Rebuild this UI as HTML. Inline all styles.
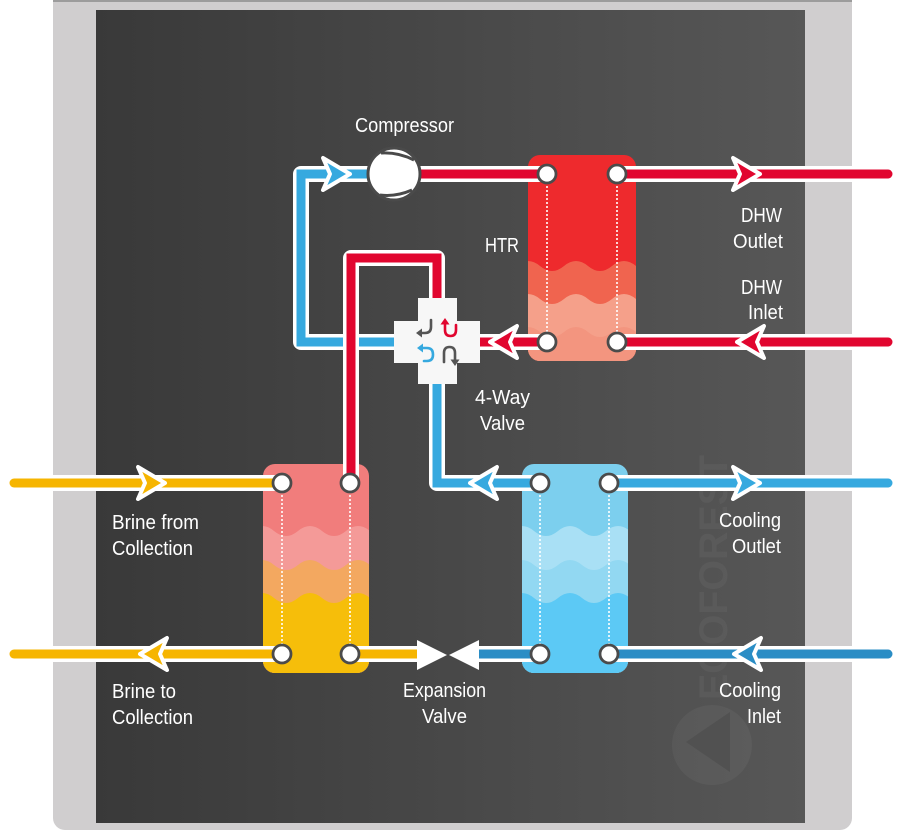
<!DOCTYPE html>
<html>
<head>
<meta charset="utf-8">
<style>
  html,body{margin:0;padding:0;background:#ffffff;}
  svg{display:block;}
  text{font-family:"Liberation Sans",Arial,sans-serif;font-size:20px;fill:#ffffff;}
</style>
</head>
<body>
<svg width="923" height="836" viewBox="0 0 923 836" xmlns="http://www.w3.org/2000/svg">
  <defs>
    <linearGradient id="bg" x1="0" y1="0" x2="1" y2="0">
      <stop offset="0" stop-color="#393939"/>
      <stop offset="1" stop-color="#575757"/>
    </linearGradient>
    <clipPath id="cL"><rect x="263" y="464" width="106" height="209" rx="12"/></clipPath>
    <clipPath id="cC"><rect x="522" y="464" width="106" height="209" rx="12"/></clipPath>
    <clipPath id="cH"><rect x="528" y="155" width="108" height="206" rx="12"/></clipPath>
  </defs>

  <!-- frame -->
  <rect x="53" y="-20" width="799" height="850" rx="12" fill="#d0cecf"/>
  <rect x="53" y="0" width="799" height="2" fill="#9c9c9c"/>
  <rect x="96" y="10" width="709" height="813" fill="url(#bg)"/>

  <!-- watermark -->
  <text transform="translate(727,700) rotate(-90)" x="0" y="0" textLength="245" lengthAdjust="spacingAndGlyphs" style="font-size:40px;font-weight:bold;fill:#ffffff;fill-opacity:0.045">ECOFOREST</text>
  <circle cx="712" cy="745" r="40" fill="#ffffff" fill-opacity="0.045"/>
  <polygon points="686,742 730,712 730,772" fill="#515151"/>

  <!-- Left HX (brine) -->
  <g clip-path="url(#cL)">
    <rect x="263" y="464" width="106" height="209" fill="#f17d7c"/>
    <path d="M250 531 q12 -10 24 0 t24 0 t24 0 t24 0 t24 0 t24 0 V680 H250 Z" fill="#f49a98"/>
    <path d="M250 565 q12 -10 24 0 t24 0 t24 0 t24 0 t24 0 t24 0 V680 H250 Z" fill="#f3a860"/>
    <path d="M250 598 q12 -10 24 0 t24 0 t24 0 t24 0 t24 0 t24 0 V680 H250 Z" fill="#f6be0a"/>
  </g>
  <!-- Cooling HX -->
  <g clip-path="url(#cC)">
    <rect x="522" y="464" width="106" height="209" fill="#7ccfee"/>
    <path d="M510 531 q12 -10 24 0 t24 0 t24 0 t24 0 t24 0 t24 0 V680 H510 Z" fill="#a9e0f5"/>
    <path d="M510 565 q12 -10 24 0 t24 0 t24 0 t24 0 t24 0 t24 0 V680 H510 Z" fill="#92d8f2"/>
    <path d="M510 598 q12 -10 24 0 t24 0 t24 0 t24 0 t24 0 t24 0 V680 H510 Z" fill="#5cc9f5"/>
  </g>
  <!-- HTR -->
  <g clip-path="url(#cH)">
    <rect x="528" y="155" width="108" height="206" fill="#ee2a2d"/>
    <path d="M516 266 q12 -10 24 0 t24 0 t24 0 t24 0 t24 0 t24 0 V370 H516 Z" fill="#f0644f"/>
    <path d="M516 299 q12 -10 24 0 t24 0 t24 0 t24 0 t24 0 t24 0 V370 H516 Z" fill="#f5a08a"/>
    <path d="M516 332 q12 -10 24 0 t24 0 t24 0 t24 0 t24 0 t24 0 V370 H516 Z" fill="#f3957f"/>
  </g>

  <!-- dotted lines -->
  <g stroke="#ffffff" stroke-width="1.6" stroke-dasharray="2 2" fill="none">
    <path d="M282 483 V654 M350 483 V654"/>
    <path d="M540 483 V654 M609 483 V654"/>
    <path d="M547 174 V342 M617 174 V342"/>
  </g>

  <!-- pipes -->
  <g fill="none" stroke-linecap="round">
    <g stroke="#ffffff" stroke-width="16" stroke-linejoin="round">
      <path d="M394 342 H301 V174 H370"/>
      <path d="M437 384 V483 H540"/>
      <path d="M609 483 H888"/>
      <path d="M479 654 H540"/>
      <path d="M609 654 H888"/>
    </g>
    <g stroke="#36a9df" stroke-width="9" stroke-linejoin="miter">
      <path d="M394 342 H301 V174 H370"/>
      <path d="M437 384 V483 H540"/>
      <path d="M609 483 H888"/>
    </g>
    <g stroke="#2a8dc5" stroke-width="9">
      <path d="M479 654 H540"/>
      <path d="M609 654 H888"/>
    </g>
    <g stroke="#ffffff" stroke-width="16" stroke-linejoin="round">
      <path d="M14 483 H282"/>
      <path d="M14 654 H282"/>
      <path d="M350 654 H417"/>
    </g>
    <g stroke="#f6b500" stroke-width="9">
      <path d="M14 483 H282"/>
      <path d="M14 654 H282"/>
      <path d="M350 654 H417"/>
    </g>
    <g stroke="#ffffff" stroke-width="16" stroke-linejoin="round">
      <path d="M420 174 H547"/>
      <path d="M617 174 H888"/>
      <path d="M617 342 H888"/>
      <path d="M547 342 H480"/>
      <path d="M437 298 V258 H351 V483"/>
    </g>
    <g stroke="#e1062f" stroke-width="9" stroke-linejoin="miter">
      <path d="M420 174 H547"/>
      <path d="M617 174 H888"/>
      <path d="M617 342 H888"/>
      <path d="M547 342 H480"/>
      <path d="M437 298 V258 H351 V483"/>
    </g>
  </g>

  <!-- 4-way valve -->
  <polygon points="418,298 457,298 457,321 480,321 480,363 457,363 457,384 418,384 418,363 394,363 394,321 418,321" fill="#f7f7f7"/>
  <g fill="none" stroke-width="2.6" stroke-linecap="round">
    <path d="M431 320 V327 Q431 333 425 333 H421" stroke="#555555"/>
    <path d="M445 324 V330 Q445 336 450.5 336 Q456 336 456 330 V325" stroke="#e1062f"/>
    <path d="M421 348 H427 Q433 348 433 354.5 Q433 361 427 361 H424" stroke="#36a9df"/>
    <path d="M444 362 V353 Q444 347 449.5 347 Q455 347 455 353 V361" stroke="#555555"/>
  </g>
  <polygon points="416,333 422,328.5 422,337.5" fill="#555555"/>
  <polygon points="445,318 440.5,324.5 449.5,324.5" fill="#e1062f"/>
  <polygon points="417,348 423,343.5 423,352.5" fill="#36a9df"/>
  <polygon points="455,366 450.5,359.5 459.5,359.5" fill="#555555"/>

  <!-- expansion valve -->
  <polygon points="417,640 417,670 447,655" fill="#ffffff"/>
  <polygon points="479,640 479,670 449,655" fill="#ffffff"/>

  <!-- arrows -->
  <g stroke="#ffffff" stroke-width="4" stroke-linejoin="round">
    <polygon points="350,174 323,158 330,174 323,190" fill="#36a9df"/>
    <polygon points="760,174 733,158 740,174 733,190" fill="#e1062f"/>
    <polygon points="760,483 733,467 740,483 733,499" fill="#36a9df"/>
    <polygon points="165,483 138,467 145,483 138,499" fill="#f6b500"/>
    <polygon points="737,342 764,326 757,342 764,358" fill="#e1062f"/>
    <polygon points="490,342 517,326 510,342 517,358" fill="#e1062f"/>
    <polygon points="470,483 497,467 490,483 497,499" fill="#36a9df"/>
    <polygon points="734,654 761,638 754,654 761,670" fill="#2a8dc5"/>
    <polygon points="140,654 167,638 160,654 167,670" fill="#f6b500"/>
  </g>

  <!-- ports -->
  <g fill="#ffffff" stroke="#4b4b4b" stroke-width="2.8">
    <circle cx="282" cy="483" r="9"/><circle cx="350" cy="483" r="9"/>
    <circle cx="282" cy="654" r="9"/><circle cx="350" cy="654" r="9"/>
    <circle cx="540" cy="483" r="9"/><circle cx="609" cy="483" r="9"/>
    <circle cx="540" cy="654" r="9"/><circle cx="609" cy="654" r="9"/>
    <circle cx="547" cy="174" r="9"/><circle cx="617" cy="174" r="9"/>
    <circle cx="547" cy="342" r="9"/><circle cx="617" cy="342" r="9"/>
  </g>

  <!-- compressor -->
  <circle cx="394" cy="174" r="26" fill="#ffffff" stroke="#4a4a4a" stroke-width="3"/>
  <path d="M381 153 Q398 152 414 160" fill="none" stroke="#4a4a4a" stroke-width="3"/>
  <path d="M380 195 Q396 197 412 190" fill="none" stroke="#4a4a4a" stroke-width="3"/>

  <!-- labels -->
  <text x="355" y="132" textLength="99" lengthAdjust="spacingAndGlyphs">Compressor</text>
  <text x="485" y="252" textLength="34" lengthAdjust="spacingAndGlyphs">HTR</text>
  <text x="741" y="222" textLength="41" lengthAdjust="spacingAndGlyphs">DHW</text>
  <text x="733" y="248" textLength="50" lengthAdjust="spacingAndGlyphs">Outlet</text>
  <text x="741" y="294" textLength="41" lengthAdjust="spacingAndGlyphs">DHW</text>
  <text x="748" y="319" textLength="35" lengthAdjust="spacingAndGlyphs">Inlet</text>
  <text x="475" y="404" textLength="55" lengthAdjust="spacingAndGlyphs">4-Way</text>
  <text x="480" y="430" textLength="45" lengthAdjust="spacingAndGlyphs">Valve</text>
  <text x="112" y="529" textLength="87" lengthAdjust="spacingAndGlyphs">Brine from</text>
  <text x="112" y="555" textLength="81" lengthAdjust="spacingAndGlyphs">Collection</text>
  <text x="112" y="698" textLength="64" lengthAdjust="spacingAndGlyphs">Brine to</text>
  <text x="112" y="724" textLength="81" lengthAdjust="spacingAndGlyphs">Collection</text>
  <text x="403" y="697" textLength="83" lengthAdjust="spacingAndGlyphs">Expansion</text>
  <text x="422" y="723" textLength="45" lengthAdjust="spacingAndGlyphs">Valve</text>
  <text x="719" y="527" textLength="62" lengthAdjust="spacingAndGlyphs">Cooling</text>
  <text x="732" y="553" textLength="49" lengthAdjust="spacingAndGlyphs">Outlet</text>
  <text x="719" y="697" textLength="62" lengthAdjust="spacingAndGlyphs">Cooling</text>
  <text x="747" y="723" textLength="34" lengthAdjust="spacingAndGlyphs">Inlet</text>
</svg>
</body>
</html>
